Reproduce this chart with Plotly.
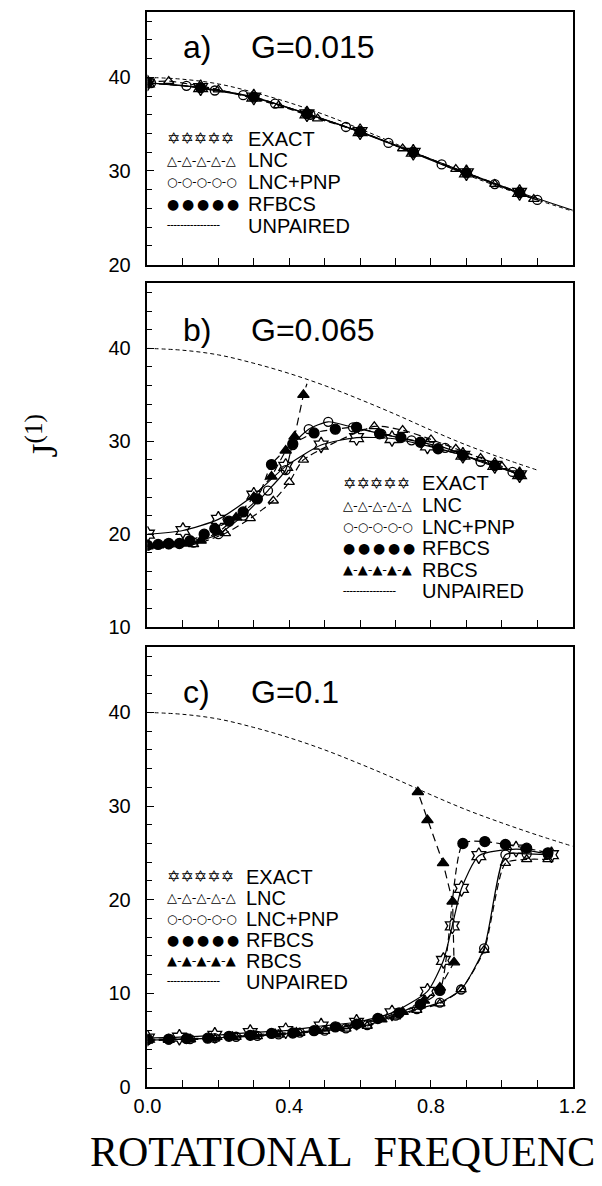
import plotly.graph_objects as go

# ---------------- data ----------------
# UNPAIRED reference curve (same in all panels)
UNP_X = [0.0, 0.1, 0.2, 0.3, 0.4, 0.5, 0.6, 0.7, 0.8, 0.9, 1.0, 1.1, 1.2]
UNP_Y = [40.0, 39.8, 39.3, 38.4, 37.3, 36.0, 34.5, 32.9, 31.2, 29.6, 28.2, 26.9, 25.7]

# panel a) G=0.015
EXACT_A_X = [0.0, 0.15, 0.3, 0.45, 0.6, 0.75, 0.9, 1.05, 1.2]
EXACT_A_Y = [39.4, 38.9, 37.9, 36.1, 34.2, 32.0, 29.8, 27.7, 25.8]
LNC_A_X = [0.0, 0.06, 0.2, 0.37, 0.48, 0.6, 0.72, 0.87, 0.98, 1.09]
LNC_A_Y = [39.5, 39.6, 38.7, 37.0, 35.6, 34.2, 32.4, 30.2, 28.6, 27.0]
PNP_A_X = [0.01, 0.11, 0.19, 0.27, 0.36, 0.46, 0.56, 0.68, 0.83, 0.98, 1.1]
PNP_A_Y = [39.4, 39.1, 38.6, 38.1, 37.2, 36.0, 34.7, 33.0, 30.7, 28.6, 26.9]
RFBCS_A_X = [0.0, 0.15, 0.3, 0.45, 0.6, 0.75, 0.9, 1.05]
RFBCS_A_Y = [39.4, 38.9, 37.9, 36.1, 34.2, 32.0, 29.8, 27.7]

# panel b) G=0.065
EXACT_B_X = [0.0, 0.1, 0.2, 0.3, 0.39, 0.49, 0.59, 0.69, 0.79, 0.89, 0.98, 1.05]
EXACT_B_Y = [20.0, 20.4, 21.6, 24.2, 27.3, 29.6, 30.4, 30.3, 29.5, 28.5, 27.4, 26.4]
LNC_B_X = [0.0, 0.05, 0.13, 0.22, 0.29, 0.355, 0.40, 0.44, 0.64, 0.72, 0.80, 0.87, 0.94, 1.0, 1.05]
LNC_B_Y = [18.9, 18.9, 18.9, 20.1, 21.7, 23.6, 25.6, 28.0, 31.6, 31.2, 30.2, 29.2, 28.2, 27.3, 26.4]
PNP_B_X = [0.0, 0.06, 0.13, 0.2, 0.27, 0.34, 0.39, 0.41, 0.455, 0.51, 0.58, 0.66, 0.745, 0.84, 0.94, 1.03]
PNP_B_Y = [18.8, 18.9, 19.1, 20.0, 22.0, 24.7, 26.9, 29.6, 31.3, 32.1, 31.5, 30.8, 30.1, 29.3, 27.8, 26.7]
RFBCS_B_X = [0.0, 0.03, 0.06, 0.09, 0.12, 0.16, 0.19, 0.23, 0.27, 0.31, 0.35, 0.41, 0.47, 0.53,
             0.59, 0.655, 0.715, 0.77, 0.82, 0.89, 0.98, 1.05]
RFBCS_B_Y = [18.8, 18.9, 19.0, 19.0, 19.3, 20.0, 20.6, 21.4, 22.4, 23.8, 27.5, 29.7, 30.9, 31.3,
             31.5, 30.8, 30.4, 29.9, 29.2, 28.5, 27.4, 26.4]
RBCS_B_X = [0.0, 0.03, 0.06, 0.1, 0.15, 0.2, 0.25, 0.3, 0.35, 0.39, 0.415, 0.44, 0.45]
RBCS_B_Y = [18.7, 18.8, 18.9, 19.0, 19.3, 20.2, 21.8, 24.0, 26.2, 29.0, 30.5, 35.0, 36.2]

# panel c) G=0.1
EXACT_C_X = [0.0, 0.09, 0.19, 0.29, 0.39, 0.49, 0.59, 0.69, 0.79, 0.835, 0.86, 0.886, 0.935, 1.04, 1.14]
EXACT_C_Y = [5.2, 5.3, 5.5, 5.8, 6.0, 6.5, 6.9, 7.9, 10.2, 13.5, 17.2, 21.2, 24.7, 25.4, 24.8]
LNC_C_X = [0.0, 0.06, 0.12, 0.19, 0.25, 0.31, 0.37, 0.43, 0.5, 0.56, 0.62, 0.7, 0.76, 0.825,
           0.885, 0.95, 1.01, 1.07, 1.13]
LNC_C_Y = [4.9, 5.0, 5.05, 5.15, 5.3, 5.4, 5.55, 5.75, 5.95, 6.2, 6.5, 7.5, 8.2, 8.9,
           10.4, 14.6, 23.9, 24.3, 24.3]
PNP_C_X = [0.0, 0.06, 0.12, 0.19, 0.25, 0.31, 0.37, 0.43, 0.5, 0.56, 0.62, 0.7, 0.76, 0.825,
           0.885, 0.95, 1.01, 1.07, 1.13]
PNP_C_Y = [5.0, 5.05, 5.1, 5.2, 5.35, 5.45, 5.6, 5.8, 6.0, 6.25, 6.6, 7.6, 8.3, 9.0,
           10.4, 14.8, 24.8, 24.9, 24.8]
RFBCS_C_X = [0.0, 0.06, 0.11, 0.17, 0.23, 0.29, 0.35, 0.41, 0.47, 0.53, 0.59, 0.65, 0.71, 0.77,
             0.825, 0.89, 0.952, 1.01, 1.07, 1.13]
RFBCS_C_Y = [5.1, 5.1, 5.15, 5.2, 5.4, 5.5, 5.7, 5.75, 6.0, 6.4, 6.7, 7.3, 7.9, 8.8,
             10.3, 26.0, 26.2, 25.9, 25.5, 25.0]
RBCS_C_X = [0.0, 0.06, 0.12, 0.18, 0.24, 0.3, 0.36, 0.42, 0.48, 0.54, 0.6, 0.66, 0.72, 0.78,
            0.825, 0.865, 0.861, 0.834, 0.79, 0.763]
RBCS_C_Y = [5.0, 5.05, 5.1, 5.2, 5.35, 5.5, 5.65, 5.8, 6.0, 6.3, 6.7, 7.2, 8.0, 9.2,
            10.6, 13.3, 19.8, 23.9, 28.5, 31.5]

PANEL_TAGS = ["a)", "b)", "c)"]
PANEL_G = ["G=0.015", "G=0.065", "G=0.1"]
Y_RANGES = [[20, 47], [10, 47], [0, 47]]
X_TICKS = [0.0, 0.4, 0.8, 1.2]
X_TICK_LABELS = ["0.0", "0.4", "0.8", "1.2"]
LEGEND_A = ["EXACT", "LNC", "LNC+PNP", "RFBCS", "UNPAIRED"]
LEGEND_BC = ["EXACT", "LNC", "LNC+PNP", "RFBCS", "RBCS", "UNPAIRED"]
Y_TITLE = "J<sup>(1)</sup>"
X_TITLE = "ROTATIONAL\u00a0\u00a0FREQUENC"

# ---------------- styles ----------------
W, H = 602, 1186
X0, X1 = 140, 586
PANEL_PX = [(12, 267), (286, 633), (653, 1097)]
BLACK = "black"

STYLE = {
    "EXACT": dict(symbol="hexagram-open", size=12, dash="solid", shape="spline"),
    "LNC": dict(symbol="triangle-up-open", size=9, dash="7px,4px", shape="spline"),
    "LNC+PNP": dict(symbol="circle-open", size=9, dash="solid", shape="spline"),
    "RFBCS": dict(symbol="circle", size=10, dash="7px,4px", shape="spline"),
    "RBCS": dict(symbol="triangle-up", size=10, dash="8px,5px", shape="linear"),
}
SAMPLE = {
    "EXACT": ("\u2721\u2721\u2721\u2721\u2721", 16),
    "LNC": ("\u25b3\u2010\u25b3\u2010\u25b3\u2010\u25b3\u2010\u25b3", 13),
    "LNC+PNP": ("\u25cb\u2010\u25cb\u2010\u25cb\u2010\u25cb\u2010\u25cb", 12),
    "RFBCS": ("\u25cf\u2009\u25cf\u2009\u25cf\u2009\u25cf\u2009\u25cf", 14),
    "RBCS": ("\u25b2\u2010\u25b2\u2010\u25b2\u2010\u25b2\u2010\u25b2", 13),
    "UNPAIRED": ("\u254c\u254c\u254c\u254c\u254c\u254c\u254c\u254c", 11),
}

fig = go.Figure()

def add_series(name, xs, ys, k, last_hidden=False):
    st = STYLE[name]
    sizes = [st["size"]] * len(xs)
    if last_hidden:
        sizes[-1] = 0
    fig.add_trace(go.Scatter(
        x=xs, y=ys, mode="lines+markers", name=name, showlegend=False,
        xaxis="x" if k == 1 else f"x{k}", yaxis="y" if k == 1 else f"y{k}",
        line=dict(color=BLACK, width=1.2, dash=st["dash"], shape=st["shape"], smoothing=0.6),
        marker=dict(symbol=st["symbol"], size=sizes, color=BLACK, opacity=1,
                    line=dict(color=BLACK, width=1.3)),
    ))

def add_unpaired(xs, ys, k):
    fig.add_trace(go.Scatter(
        x=xs, y=ys, mode="lines", name="UNPAIRED", showlegend=False,
        xaxis="x" if k == 1 else f"x{k}", yaxis="y" if k == 1 else f"y{k}",
        line=dict(color=BLACK, width=1.0, dash="4px,3px", shape="spline"),
    ))

# panel a
add_unpaired(UNP_X, UNP_Y, 1)
add_series("RFBCS", RFBCS_A_X, RFBCS_A_Y, 1)
add_series("LNC", LNC_A_X, LNC_A_Y, 1)
add_series("LNC+PNP", PNP_A_X, PNP_A_Y, 1)
add_series("EXACT", EXACT_A_X, EXACT_A_Y, 1, last_hidden=True)
# panel b
add_unpaired(UNP_X[:12], UNP_Y[:12], 2)
add_series("RBCS", RBCS_B_X, RBCS_B_Y, 2, last_hidden=True)
add_series("RFBCS", RFBCS_B_X, RFBCS_B_Y, 2)
add_series("LNC", LNC_B_X, LNC_B_Y, 2)
add_series("LNC+PNP", PNP_B_X, PNP_B_Y, 2)
add_series("EXACT", EXACT_B_X, EXACT_B_Y, 2)
# panel c
add_unpaired(UNP_X, UNP_Y, 3)
add_series("RBCS", RBCS_C_X, RBCS_C_Y, 3)
add_series("RFBCS", RFBCS_C_X, RFBCS_C_Y, 3)
add_series("LNC", LNC_C_X, LNC_C_Y, 3)
add_series("LNC+PNP", PNP_C_X, PNP_C_Y, 3)
add_series("EXACT", EXACT_C_X, EXACT_C_Y, 3)

TICK_FONT = dict(family="Liberation Sans, Arial", size=20, color=BLACK)
layout = dict(width=W, height=H, margin=dict(l=0, r=0, t=0, b=0),
              paper_bgcolor="white", plot_bgcolor="white", showlegend=False)

for i, (top, bot) in enumerate(PANEL_PX):
    k = i + 1
    xa = "xaxis" if k == 1 else f"xaxis{k}"
    ya = "yaxis" if k == 1 else f"yaxis{k}"
    layout[xa] = dict(
        domain=[X0 / W, X1 / W], range=[0, 1.2], anchor="y" if k == 1 else f"y{k}",
        showline=True, mirror=True, linecolor=BLACK, linewidth=1.5,
        ticks="inside", ticklen=7, tickwidth=1.3, tickcolor=BLACK,
        tickmode="array", tickvals=X_TICKS, ticktext=X_TICK_LABELS,
        minor=dict(dtick=0.1, ticks="inside", ticklen=7, tickwidth=1.3, tickcolor=BLACK),
        showticklabels=(k == 3), tickfont=TICK_FONT, showgrid=False, zeroline=False,
    )
    layout[ya] = dict(
        domain=[1 - bot / H, 1 - top / H], range=Y_RANGES[i], anchor="x" if k == 1 else f"x{k}",
        showline=True, mirror=True, linecolor=BLACK, linewidth=1.5,
        ticks="inside", ticklen=7, tickwidth=1.3, tickcolor=BLACK, dtick=10,
        minor=dict(dtick=2, ticks="inside", ticklen=5, tickwidth=1.1, tickcolor=BLACK),
        tickfont=TICK_FONT, ticklabelstandoff=11, showgrid=False, zeroline=False,
    )

fig.update_layout(**layout)

ann = []
TITLE_Y = [47, 333, 698]
for i in range(3):
    ann.append(dict(x=175 / W, y=1 - TITLE_Y[i] / H, xref="paper", yref="paper", xanchor="left",
                    yanchor="middle", text=PANEL_TAGS[i], showarrow=False,
                    font=dict(family="Liberation Sans, Arial", size=32, color=BLACK)))
    ann.append(dict(x=246 / W, y=1 - TITLE_Y[i] / H, xref="paper", yref="paper", xanchor="left",
                    yanchor="middle", text=PANEL_G[i], showarrow=False,
                    font=dict(family="Liberation Sans, Arial", size=32, color=BLACK)))

LEG_POS = [(158, 243, 140, 22.0, LEGEND_A), (343, 426, 488, 21.8, LEGEND_BC), (158, 241, 885, 21.2, LEGEND_BC)]
for sx, tx, y0, dy, names in LEG_POS:
    for j, nm in enumerate(names):
        yy = 1 - (y0 + dy * j) / H
        ann.append(dict(x=tx / W, y=yy, xref="paper", yref="paper", xanchor="left", yanchor="middle",
                        text=nm, showarrow=False,
                        font=dict(family="Liberation Sans, Arial", size=20, color=BLACK)))
        txt, fs = SAMPLE[nm]
        ann.append(dict(x=sx / W, y=yy, xref="paper", yref="paper", xanchor="left", yanchor="middle",
                        text=txt, showarrow=False,
                        font=dict(family="DejaVu Sans", size=fs, color=BLACK)))

ann.append(dict(x=30 / W, y=1 - 440 / H, xref="paper", yref="paper", xanchor="center", yanchor="middle",
                text=Y_TITLE, textangle=-90, showarrow=False,
                font=dict(family="Liberation Serif, DejaVu Serif", size=36, color=BLACK)))
ann.append(dict(x=78 / W, y=1 - 1163 / H, xref="paper", yref="paper", xanchor="left", yanchor="middle",
                text=X_TITLE, showarrow=False,
                font=dict(family="Liberation Serif, DejaVu Serif", size=42, color=BLACK)))

fig.update_layout(annotations=ann)
fig.write_html("out.html", config={"displayModeBar": False},
               post_script="document.body.style.margin='0';")
